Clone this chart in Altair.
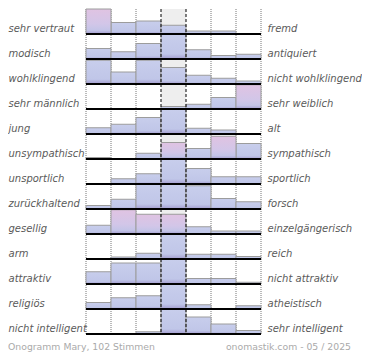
import json
import altair as alt
import pandas as pd

left_labels = ["sehr vertraut", "modisch", "wohlklingend", "sehr männlich", " jung",
               "unsympathisch", "unsportlich", "zurückhaltend", "gesellig", "arm",
               "attraktiv", "religiös", "nicht intelligent"]
right_labels = ["fremd", "antiquiert", "nicht wohlklingend", "sehr weiblich", "alt",
                "sympathisch", "sportlich", "forsch", "einzelgängerisch", "reich",
                "nicht attraktiv", "atheistisch", "sehr intelligent"]
# share of row height (0-100) for the 7 answer columns of each scale
shares = [
    [100, 46, 52, 35, 12, 12, 0],
    [42, 29, 62, 100, 37, 14, 19],
    [95, 48, 95, 66, 35, 23, 12],
    [0, 0, 0, 10, 19, 46, 97],
    [25, 39, 66, 100, 23, 16, 0],
    [6, 0, 23, 66, 42, 91, 62],
    [0, 21, 41, 100, 62, 29, 29],
    [14, 39, 100, 100, 93, 42, 29],
    [35, 97, 79, 79, 29, 12, 12],
    [0, 8, 23, 100, 19, 19, 10],
    [49, 84, 84, 100, 22, 22, 7],
    [26, 45, 53, 100, 17, 2, 13],
    [0, 0, 9, 100, 68, 40, 14],
]
# columns shown in the pink tone
highlighted = [[1], [], [], [7], [], [4, 6], [], [], [2, 3, 4], [], [], [], []]
neutral_col = 4
n_cols = 7
footer_left = "Onogramm Mary, 102 Stimmen"
footer_right = "onomastik.com - 05 / 2025"

n_rows = len(left_labels)
ROW_H = 25
W = 175
H = n_rows * ROW_H

records = []
for r, vals in enumerate(shares):
    for c, v in enumerate(vals, start=1):
        records.append({"row": r, "col": c, "share": v, "hl": c in highlighted[r]})
df = pd.DataFrame(records)

xs = alt.Scale(domain=[0, n_cols], nice=False, zero=False)
ys = alt.Scale(domain=[0, n_rows], nice=False, zero=False, reverse=True)

label_font = "DejaVu Sans"
label_color = "#5a5a5a"

blue = alt.Gradient(gradient="linear", x1=0, x2=0, y1=0, y2=1, stops=[
    alt.GradientStop(color="#c8ceec", offset=0),
    alt.GradientStop(color="#c0c6e8", offset=0.8),
    alt.GradientStop(color="#a39ccf", offset=1)])
pink = alt.Gradient(gradient="linear", x1=0, x2=0, y1=0, y2=1, stops=[
    alt.GradientStop(color="#e0c3e2", offset=0),
    alt.GradientStop(color="#d2c6e8", offset=0.6),
    alt.GradientStop(color="#c3c4e7", offset=0.85),
    alt.GradientStop(color="#a39ccf", offset=1)])

bars_base = alt.Chart(df).transform_filter("datum.share > 0").transform_calculate(
    x0="datum.col - 1", x1="datum.col",
    ytop="datum.row + 1 - datum.share / 100", ybase="datum.row + 1")

bar_enc = dict(
    x=alt.X("x0:Q", scale=xs, axis=None), x2="x1:Q",
    y=alt.Y("ytop:Q", scale=ys, axis=None), y2="ybase:Q")

bars_blue = bars_base.transform_filter("!datum.hl").mark_rect(
    color=blue, stroke="#9c9c9c", strokeWidth=1).encode(**bar_enc)
bars_pink = bars_base.transform_filter("datum.hl").mark_rect(
    color=pink, stroke="#9c9c9c", strokeWidth=1).encode(**bar_enc)

# neutral column background
bg = alt.Chart(pd.DataFrame({"a": [neutral_col - 1], "b": [neutral_col], "t": [0], "u": [n_rows]})).mark_rect(
    color="#eeeeee").encode(
    x=alt.X("a:Q", scale=xs, axis=None), x2="b:Q",
    y=alt.Y("t:Q", scale=ys, axis=alt.Axis(
        orient="left", values=[r + 0.9 for r in range(n_rows)],
        labelExpr=json.dumps(left_labels, ensure_ascii=False) + "[floor(datum.value)]",
        labelAlign="left", labelBaseline="alphabetic", labelPadding=78,
        labelFont=label_font, labelFontSize=10, labelFontStyle="italic", labelColor=label_color,
        labelOverlap=False, labelBound=False, labelFlush=False,
        domain=False, ticks=False, tickSize=0, grid=False, title=None)),
    y2="u:Q")

bounds = list(range(n_cols + 1))
dotted_df = pd.DataFrame({"x": [b for b in bounds if b not in (neutral_col - 1, neutral_col)], "t": 0, "u": n_rows})
dashed_df = pd.DataFrame({"x": [neutral_col - 1, neutral_col], "t": 0, "u": n_rows})

dotted = alt.Chart(dotted_df).mark_rule(color="#777777", strokeWidth=1, strokeDash=[1, 1]).encode(
    x=alt.X("x:Q", scale=xs, axis=None),
    y=alt.Y("t:Q", scale=ys, axis=None), y2="u:Q")
dashed = alt.Chart(dashed_df).mark_rule(color="#000000", strokeWidth=1, strokeDash=[3, 2]).encode(
    x=alt.X("x:Q", scale=xs, axis=None),
    y=alt.Y("t:Q", scale=ys, axis=None), y2="u:Q")

base_df = pd.DataFrame({"y": [r + 1 for r in range(n_rows)], "a": 0, "b": n_cols})
baselines = alt.Chart(base_df).mark_rule(color="#000000", strokeWidth=2).encode(
    x=alt.X("a:Q", scale=xs, axis=None), x2="b:Q",
    y=alt.Y("y:Q", scale=ys, axis=alt.Axis(
        orient="right", values=[r + 0.9 for r in range(n_rows)],
        labelExpr=json.dumps(right_labels, ensure_ascii=False) + "[floor(datum.value)]",
        labelAlign="left", labelBaseline="alphabetic", labelPadding=6,
        labelFont=label_font, labelFontSize=10, labelFontStyle="italic", labelColor=label_color,
        labelOverlap=False, labelBound=False, labelFlush=False,
        domain=False, ticks=False, tickSize=0, grid=False, title=None)))

foot_l = alt.Chart(pd.DataFrame({"t": [footer_left]})).mark_text(
    align="left", baseline="alphabetic", font=label_font, fontSize=9.3, color="#aaaaaa").encode(
    text="t:N", x=alt.value(-78), y=alt.value(H + 16))
foot_r = alt.Chart(pd.DataFrame({"t": [footer_right]})).mark_text(
    align="right", baseline="alphabetic", font=label_font, fontSize=9.3, color="#aaaaaa").encode(
    text="t:N", x=alt.value(W + 90), y=alt.value(H + 16))

chart = alt.layer(bg, dotted, bars_blue, bars_pink, dashed, baselines, foot_l, foot_r).resolve_axis(
    y="independent").properties(width=W, height=H, padding=0).configure_view(stroke=None)

chart.save("out.html", embed_options={"renderer": "svg", "actions": False})
